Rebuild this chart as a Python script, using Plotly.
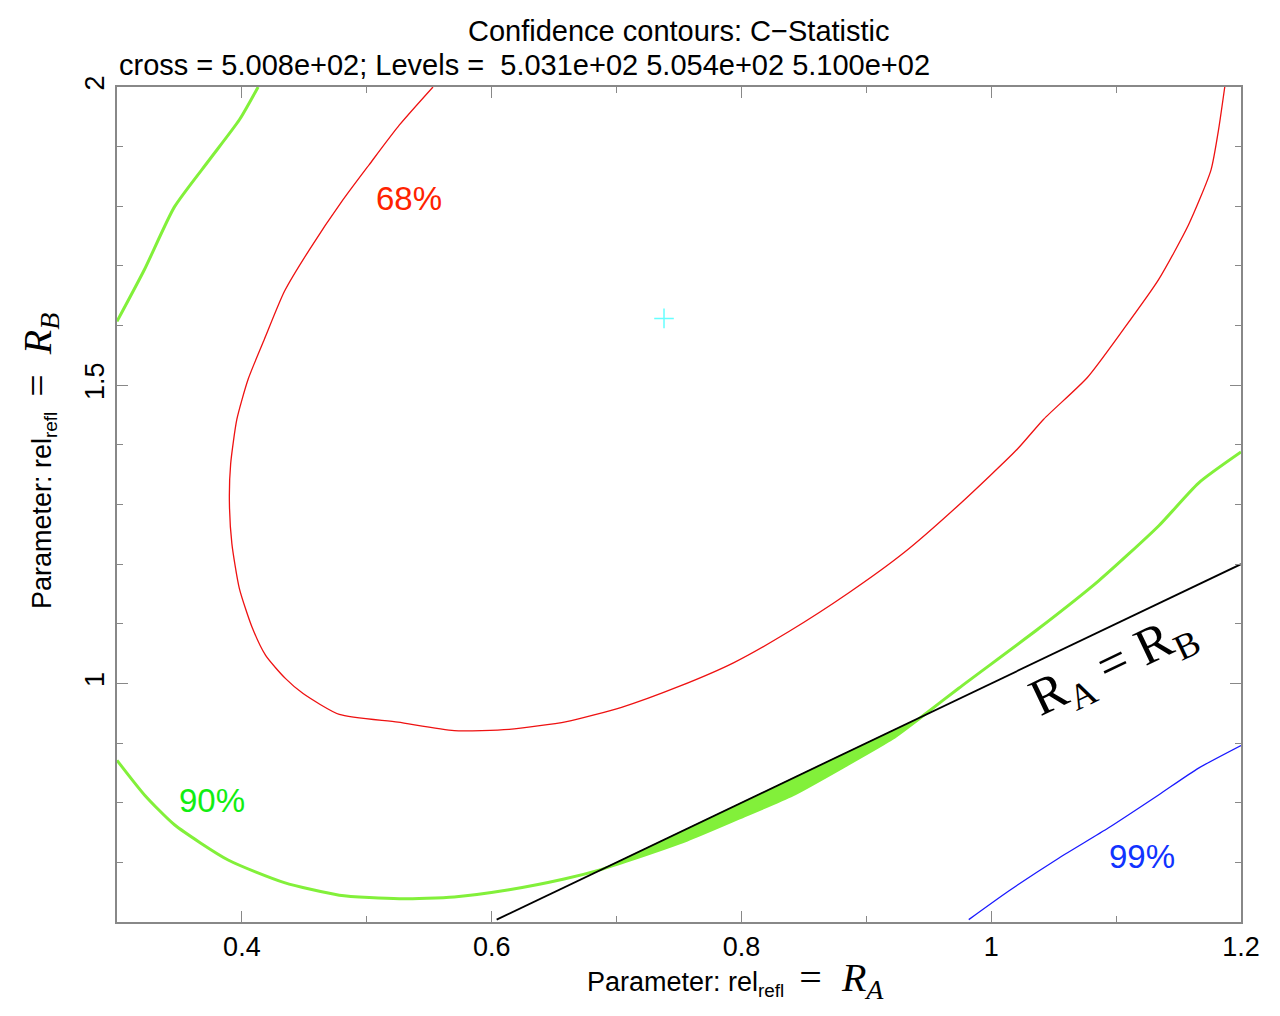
import plotly.graph_objects as go

# ---- data ----
red_x = [0.553, 0.526, 0.502, 0.481, 0.454, 0.434, 0.418, 0.405, 0.396, 0.391, 0.390, 0.392,
         0.398, 0.408, 0.419, 0.435, 0.449, 0.478, 0.525, 0.570, 0.614, 0.660, 0.704, 0.750,
         0.794, 0.838, 0.886, 0.930, 0.976, 1.021, 1.042, 1.077, 1.106, 1.134, 1.158, 1.176,
         1.182, 1.187]
red_y = [2.000, 1.936, 1.870, 1.811, 1.727, 1.657, 1.577, 1.510, 1.443, 1.368, 1.304, 1.234,
         1.159, 1.095, 1.047, 1.008, 0.983, 0.948, 0.935, 0.921, 0.923, 0.936, 0.960, 0.995,
         1.035, 1.087, 1.152, 1.219, 1.303, 1.393, 1.443, 1.513, 1.594, 1.677, 1.769, 1.861,
         1.928, 2.000]

green_top_x = [0.300, 0.322, 0.346, 0.374, 0.398, 0.413]
green_top_y = [1.607, 1.694, 1.799, 1.878, 1.945, 2.000]

green_bot_x = [0.300, 0.322, 0.346, 0.389, 0.434, 0.478, 0.526, 0.570, 0.614, 0.658, 0.686,
               0.708, 0.756, 0.798, 0.841, 0.884, 0.921, 0.948, 0.974, 1.038, 1.086, 1.134,
               1.166, 1.200]
green_bot_y = [0.871, 0.813, 0.763, 0.704, 0.666, 0.645, 0.639, 0.642, 0.654, 0.672, 0.687,
               0.702, 0.737, 0.774, 0.813, 0.863, 0.908, 0.950, 0.992, 1.092, 1.172, 1.264,
               1.336, 1.388]

blue_x = [0.982, 1.014, 1.054, 1.094, 1.134, 1.166, 1.200]
blue_y = [0.604, 0.652, 0.707, 0.758, 0.813, 0.858, 0.896]

line_x = [0.604, 1.200]
line_y = [0.604, 1.200]

cross_x = [0.738]
cross_y = [1.612]

# region between the R_A=R_B line and the 90% contour where contour is below line
fill_lo, fill_hi = 0.686, 0.948

GREEN = "#82f03a"
FONT = "Liberation Sans, Arial, Helvetica, sans-serif"
SERIF = "Liberation Serif, DejaVu Serif, serif"

fig = go.Figure()

# filled sliver
sx = [x for x in green_bot_x if fill_lo <= x <= fill_hi]
sy = [y for x, y in zip(green_bot_x, green_bot_y) if fill_lo <= x <= fill_hi]
poly_x = sx + sx[::-1]
poly_y = sy + sx[::-1]
fig.add_trace(go.Scatter(x=poly_x, y=poly_y, mode="lines", fill="toself",
                         fillcolor=GREEN, line=dict(color=GREEN, width=1, shape="spline", smoothing=0.6),
                         hoverinfo="skip", showlegend=False))

fig.add_trace(go.Scatter(x=red_x, y=red_y, mode="lines",
                         line=dict(color="#ee1111", width=1.3, shape="spline", smoothing=0.6),
                         showlegend=False))
fig.add_trace(go.Scatter(x=green_top_x, y=green_top_y, mode="lines",
                         line=dict(color=GREEN, width=3, shape="spline", smoothing=0.6),
                         showlegend=False))
fig.add_trace(go.Scatter(x=green_bot_x, y=green_bot_y, mode="lines",
                         line=dict(color=GREEN, width=3, shape="spline", smoothing=0.6),
                         showlegend=False))
fig.add_trace(go.Scatter(x=blue_x, y=blue_y, mode="lines",
                         line=dict(color="#1a1aff", width=1.3, shape="spline", smoothing=0.6),
                         showlegend=False))
fig.add_trace(go.Scatter(x=line_x, y=line_y, mode="lines",
                         line=dict(color="black", width=1.8), showlegend=False))
fig.add_trace(go.Scatter(x=cross_x, y=cross_y, mode="markers",
                         marker=dict(symbol="cross-thin", size=14,
                                     line=dict(color="#66ffff", width=1.5)),
                         showlegend=False))

annots = [
    dict(x=0.534, y=1.813, text="68%", font=dict(color="#ff2200", size=33, family=FONT)),
    dict(x=0.376, y=0.803, text="90%", font=dict(color="#11ee11", size=33, family=FONT)),
    dict(x=1.121, y=0.709, text="99%", font=dict(color="#1133ff", size=33, family=FONT)),
    dict(x=1.098, y=1.028, text="R<sub>A</sub> = R<sub>B</sub>", textangle=-25.5,
         font=dict(color="black", size=52, family=SERIF)),
]
for a in annots:
    a.update(xref="x", yref="y", showarrow=False, xanchor="center", yanchor="middle")
    fig.add_annotation(**a)

fig.add_annotation(xref="paper", yref="paper", x=0.5, y=1.067, xanchor="center",
                   yanchor="middle", showarrow=False,
                   text="Confidence contours: C\u2212Statistic",
                   font=dict(size=29, color="black", family=FONT))
fig.add_annotation(xref="paper", yref="paper", x=0.0, y=1.026, xanchor="left",
                   yanchor="middle", showarrow=False,
                   text="cross = 5.008e+02; Levels =  5.031e+02 5.054e+02 5.100e+02",
                   font=dict(size=29, color="black", family=FONT))

# axis titles (as annotations, positioned like the reference)
xtitle = ("Parameter: rel<sub>refl</sub>  <span style='font-family:Liberation Serif;font-size:40px'>"
          "=  <i>R<sub>A</sub></i></span>")
ytitle = ("Parameter: rel<sub>refl</sub>  <span style='font-family:Liberation Serif;font-size:40px'>"
          "=  <i>R<sub>B</sub></i></span>")
fig.add_annotation(xref="paper", yref="paper", x=0.55, y=-0.0695, xanchor="center",
                   yanchor="middle", showarrow=False, text=xtitle,
                   font=dict(size=27, color="black", family=FONT))
fig.add_annotation(xref="paper", yref="paper", x=-0.0685, y=0.552, xanchor="center",
                   yanchor="middle", showarrow=False, text=ytitle, textangle=-90,
                   font=dict(size=27, color="black", family=FONT))

axis_common = dict(
    showgrid=False, zeroline=False, showline=True, linecolor="#888888", linewidth=1.5,
    mirror="allticks", ticks="inside", ticklen=11, tickwidth=1.2, tickcolor="#888888",
    tickfont=dict(size=27, color="black", family=FONT),
    minor=dict(ticks="inside", ticklen=6, tickwidth=1.2, tickcolor="#888888", dtick=0.1),
)

fig.update_xaxes(range=[0.3, 1.2], tick0=0.4, dtick=0.2, **axis_common)
fig.update_yaxes(range=[0.6, 2.0], tick0=1.0, dtick=0.5, tickangle=-90, **axis_common)

fig.update_layout(width=1280, height=1016, plot_bgcolor="white", paper_bgcolor="white",
                  margin=dict(l=117, r=39, t=87, b=94), showlegend=False)

fig.write_html("out.html")
